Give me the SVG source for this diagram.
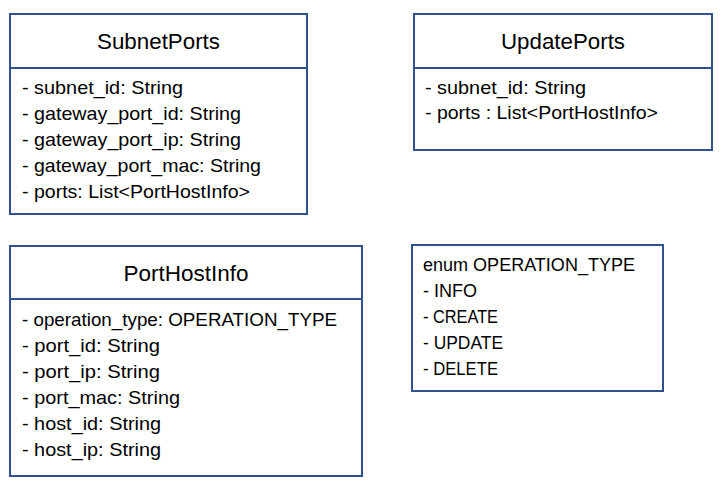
<svg xmlns="http://www.w3.org/2000/svg" width="722" height="482" viewBox="0 0 722 482">
<style>
.box{fill:#ffffff;stroke:#2f528f;stroke-width:2}
.div{stroke:#2f528f;stroke-width:2}
.t{font-family:"Liberation Sans",Arial,sans-serif;font-size:22px;fill:#000;text-anchor:middle}
.a{font-family:"Liberation Sans",Arial,sans-serif;font-size:19px;fill:#000}
</style>
<rect width="722" height="482" fill="#ffffff"/>
<g id="SubnetPorts">
<rect class="box" x="10" y="14" width="297" height="200"/>
<line class="div" x1="10" y1="68" x2="307" y2="68"/>
<text class="t" x="158.5" y="49" textLength="123" lengthAdjust="spacingAndGlyphs">SubnetPorts</text>
<text class="a" x="22" y="94" textLength="161" lengthAdjust="spacingAndGlyphs">- subnet_id: String</text>
<text class="a" x="22" y="120" textLength="219" lengthAdjust="spacingAndGlyphs">- gateway_port_id: String</text>
<text class="a" x="22" y="146" textLength="219" lengthAdjust="spacingAndGlyphs">- gateway_port_ip: String</text>
<text class="a" x="22" y="172" textLength="239" lengthAdjust="spacingAndGlyphs">- gateway_port_mac: String</text>
<text class="a" x="22" y="198" textLength="228" lengthAdjust="spacingAndGlyphs">- ports: List&lt;PortHostInfo&gt;</text>
</g>
<g id="UpdatePorts">
<rect class="box" x="414" y="14" width="298" height="136"/>
<line class="div" x1="414" y1="68" x2="712" y2="68"/>
<text class="t" x="563" y="49" textLength="124" lengthAdjust="spacingAndGlyphs">UpdatePorts</text>
<text class="a" x="425" y="94" textLength="161" lengthAdjust="spacingAndGlyphs">- subnet_id: String</text>
<text class="a" x="425" y="119" textLength="233" lengthAdjust="spacingAndGlyphs">- ports : List&lt;PortHostInfo&gt;</text>
</g>
<g id="PortHostInfo">
<rect class="box" x="10" y="246" width="352" height="230"/>
<line class="div" x1="10" y1="299" x2="362" y2="299"/>
<text class="t" x="186" y="281" textLength="125" lengthAdjust="spacingAndGlyphs">PortHostInfo</text>
<text class="a" x="22" y="326" textLength="315" lengthAdjust="spacingAndGlyphs">- operation_type: OPERATION_TYPE</text>
<text class="a" x="22" y="352" textLength="138" lengthAdjust="spacingAndGlyphs">- port_id: String</text>
<text class="a" x="22" y="378" textLength="138" lengthAdjust="spacingAndGlyphs">- port_ip: String</text>
<text class="a" x="22" y="404" textLength="158" lengthAdjust="spacingAndGlyphs">- port_mac: String</text>
<text class="a" x="22" y="430" textLength="139" lengthAdjust="spacingAndGlyphs">- host_id: String</text>
<text class="a" x="22" y="456" textLength="139" lengthAdjust="spacingAndGlyphs">- host_ip: String</text>
</g>
<g id="OPERATION_TYPE">
<rect class="box" x="412" y="245" width="251" height="146"/>
<text class="a" x="423" y="271" textLength="212" lengthAdjust="spacingAndGlyphs">enum OPERATION_TYPE</text>
<text class="a" x="423" y="297" textLength="54" lengthAdjust="spacingAndGlyphs">- INFO</text>
<text class="a" x="423" y="323" textLength="75" lengthAdjust="spacingAndGlyphs">- CREATE</text>
<text class="a" x="423" y="349" textLength="80" lengthAdjust="spacingAndGlyphs">- UPDATE</text>
<text class="a" x="423" y="375" textLength="75" lengthAdjust="spacingAndGlyphs">- DELETE</text>
</g>
<g id="connectors"/>
</svg>
